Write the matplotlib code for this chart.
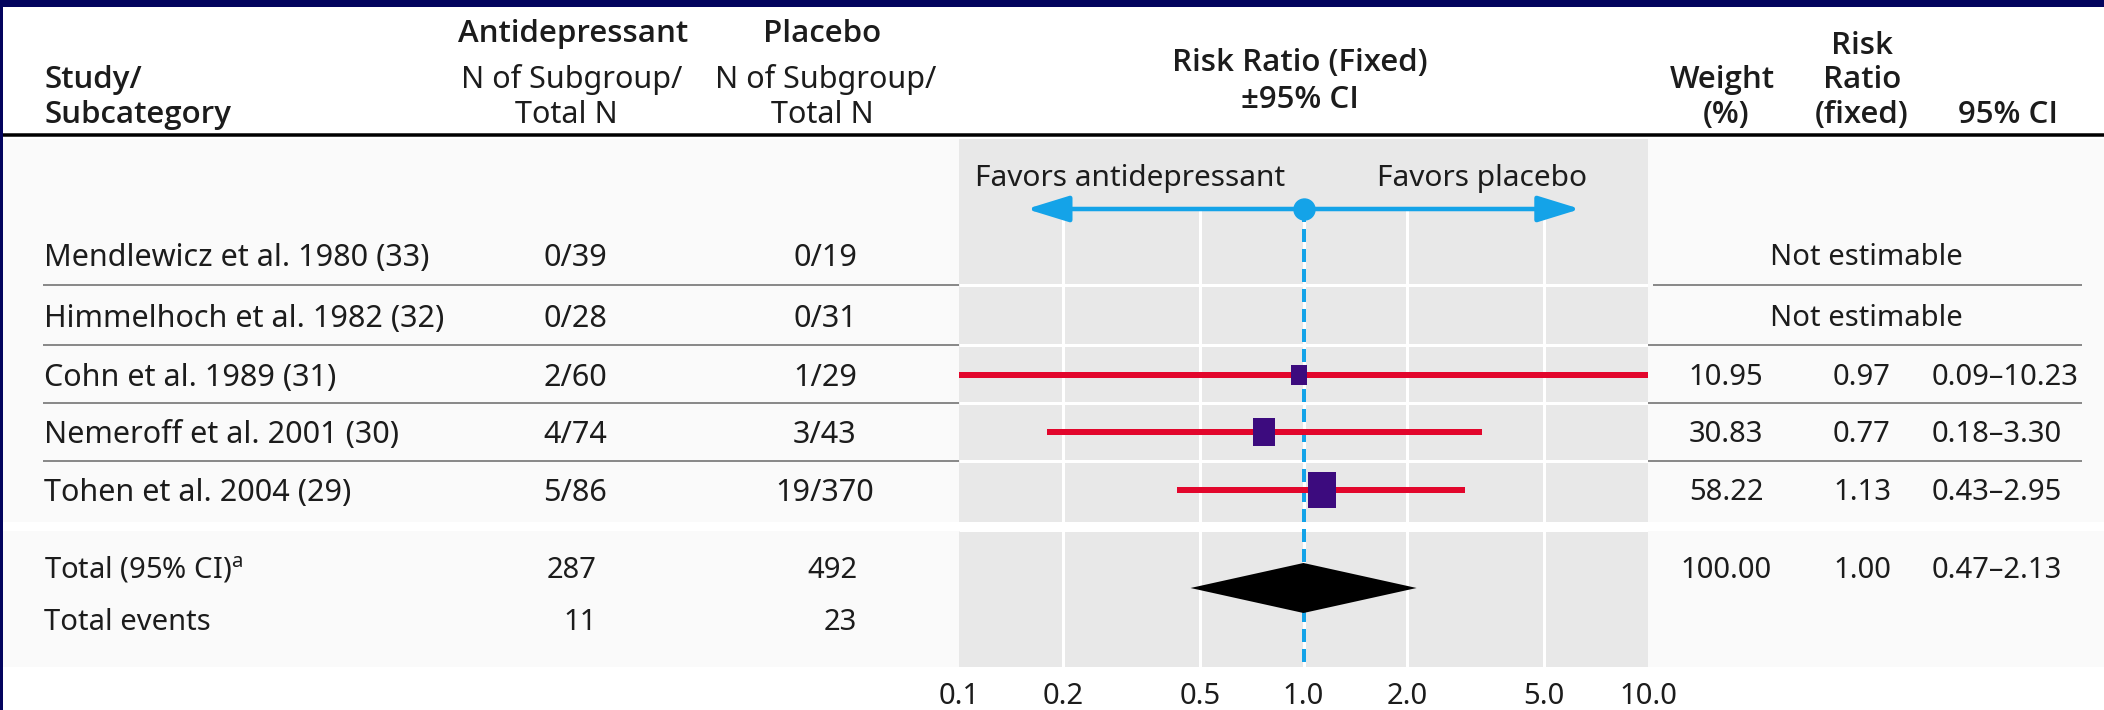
import matplotlib
matplotlib.use("Agg")
import matplotlib.pyplot as plt
from matplotlib.patches import Rectangle, Polygon
from matplotlib.markers import MarkerStyle
import numpy as np

plt.rcParams['font.family'] = ['Noto Sans', 'DejaVu Sans']
plt.rcParams['mathtext.fontset'] = 'custom'
plt.rcParams['mathtext.rm'] = 'Noto Sans'

# data
studies = ['Mendlewicz et al. 1980 (33)', 'Himmelhoch et al. 1982 (32)',
           'Cohn et al. 1989 (31)', 'Nemeroff et al. 2001 (30)', 'Tohen et al. 2004 (29)']
antidep = ['0/39', '0/28', '2/60', '4/74', '5/86']
placebo = ['0/19', '0/31', '1/29', '3/43', '19/370']
weight = [np.nan, np.nan, 10.95, 30.83, 58.22]
rr = [np.nan, np.nan, 0.97, 0.77, 1.13]
ci_lo = [np.nan, np.nan, 0.09, 0.18, 0.43]
ci_hi = [np.nan, np.nan, 10.23, 3.30, 2.95]

total_n = [287, 492]
total_events = [11, 23]
total_weight = 100.00
total_rr = 1.00
total_ci = [0.47, 2.13]

ticks = [0.1, 0.2, 0.5, 1.0, 2.0, 5.0, 10.0]
tick_labels = ['0.1', '0.2', '0.5', '1.0', '2.0', '5.0', '10.0']
arrow_tips = [0.157, 6.36]

W, H = 2104, 710
PX = 0.72  # points per pixel at dpi 100
navy = '#03045e'
blue = '#14a3e8'
red = '#e2062c'
purple = '#3c0b7e'
gray = '#e8e8e8'
light = '#fafafa'
ink = '#1c1c1c'

fig = plt.figure(figsize=(W / 100, H / 100), dpi=100)
fig.patch.set_facecolor('white')
bg = fig.add_axes([0, 0, 1, 1])
bg.set_xlim(0, W)
bg.set_ylim(H, 0)
bg.axis('off')

# panel geometry (pixels)
px0, px1 = 959, 1648
top, gap0, gap1, bottom = 139, 522, 531, 667
row_y = [255, 316, 375, 432, 490]
sep_y = [285, 345, 403, 461]
tot_y = [568, 620]

BODY = 21
HEAD = 22.5
BOLD_FONT = ['Open Sans', 'Lato', 'Liberation Sans']


def txt(x, yc, s, ha='center', size=BODY, weight='normal'):
    # yc = centre of capitals, converted to baseline
    fam = BOLD_FONT if weight != 'normal' else ['Noto Sans', 'DejaVu Sans']
    bg.text(x, yc + 0.357 * size / PX, s, ha=ha, va='baseline', fontsize=size,
            fontweight=weight, family=fam, color=ink)


# backgrounds
for y0, y1 in [(top, gap0), (gap1, bottom)]:
    bg.add_patch(Rectangle((3, y0), px0 - 3, y1 - y0, color=light, lw=0))
    bg.add_patch(Rectangle((px1, y0), W - px1, y1 - y0, color=light, lw=0))
    bg.add_patch(Rectangle((px0, y0), px1 - px0, y1 - y0, color=gray, lw=0))

# navy frame
bg.add_patch(Rectangle((0, 0), W, 7, color=navy, lw=0))
bg.add_patch(Rectangle((0, 0), 3, H, color=navy, lw=0))

# header
bg.plot([3, W], [134.5, 134.5], color='black', lw=3.5 * PX, solid_capstyle='butt')
hb = 'semibold'
h1, h2, h3 = 31, 77, 112
txt(44, h2, 'Study/', ha='left', size=HEAD, weight=hb)
txt(44, h3, 'Subcategory', ha='left', size=HEAD, weight=hb)
txt(573, h1, 'Antidepressant', size=HEAD, weight=hb)
txt(572, h2, 'N of Subgroup/', size=22)
txt(566, h3, 'Total N', size=22)
txt(822, h1, 'Placebo', size=HEAD, weight=hb)
txt(826, h2, 'N of Subgroup/', size=22)
txt(822, h3, 'Total N', size=22)
txt(1300, 60, 'Risk Ratio (Fixed)', size=HEAD, weight=hb)
txt(1300, 97, '±95% CI', size=HEAD, weight=hb)
txt(1722, h2, 'Weight', size=HEAD, weight=hb)
txt(1726, h3, '(%)', size=HEAD, weight=hb)
txt(1862, 43, 'Risk', size=HEAD, weight=hb)
txt(1862, h2, 'Ratio', size=HEAD, weight=hb)
txt(1862, h3, '(fixed)', size=HEAD, weight=hb)
txt(2008, h3, '95% CI', size=HEAD, weight=hb)

# study rows
for i in range(len(studies)):
    y = row_y[i]
    txt(44, y, studies[i], ha='left', size=22)
    txt(575, y, antidep[i], size=22)
    txt(825, y, placebo[i], size=22)
    if np.isnan(rr[i]):
        txt(1866, y, 'Not estimable')
    else:
        txt(1726, y, f'{weight[i]:.2f}')
        txt(1862, y, f'{rr[i]:.2f}')
        txt(1932, y, f'{ci_lo[i]:.2f}–{ci_hi[i]:.2f}', ha='left')

for k, y in enumerate(sep_y):
    bg.plot([43, px0], [y, y], color='#8a8a8a', lw=2 * PX, solid_capstyle='butt')
    bg.plot([1653 if k == 0 else px1, 2082], [y, y], color='#8a8a8a', lw=2 * PX,
            solid_capstyle='butt')

# totals
txt(44, tot_y[0], r'Total (95% CI)$^{\mathrm{a}}$', ha='left')
txt(44, tot_y[1], 'Total events', ha='left')
txt(597, tot_y[0], str(total_n[0]), ha='right')
txt(857, tot_y[0], str(total_n[1]), ha='right')
txt(597, tot_y[1], str(total_events[0]), ha='right')
txt(857, tot_y[1], str(total_events[1]), ha='right')
txt(1726, tot_y[0], f'{total_weight:.2f}')
txt(1862, tot_y[0], f'{total_rr:.2f}')
txt(1932, tot_y[0], f'{total_ci[0]:.2f}–{total_ci[1]:.2f}', ha='left')

# direction labels
txt(1130, 175, 'Favors antidepressant', size=21.5)
txt(1482, 175, 'Favors placebo', size=21.5)

# forest panel
ax = fig.add_axes([px0 / W, 1 - bottom / H, (px1 - px0) / W, (bottom - top) / H])
ax.set_xscale('log')
ax.set_xlim(ticks[0], ticks[-1])
ax.set_ylim(bottom, top)
ax.patch.set_visible(False)
for s in ax.spines.values():
    s.set_visible(False)
ax.set_yticks([])
ax.set_xticks(ticks)
ax.set_xticklabels(tick_labels)
ax.minorticks_off()
ax.tick_params(axis='x', length=0, pad=11, labelsize=21, labelcolor=ink)

arrow_y = 209
ax.vlines(ticks[1:-1], arrow_y, bottom, color='white', lw=3 * PX, zorder=1)
ax.hlines(sep_y, ticks[0], ticks[-1], color='white', lw=3 * PX, zorder=1)
ax.hlines([gap0 + 4.5], ticks[0], ticks[-1], color='white', lw=9 * PX, zorder=1)

# direction arrows
for tip in arrow_tips:
    ax.annotate('', xy=(tip, arrow_y), xytext=(1.0, arrow_y),
                arrowprops=dict(arrowstyle='-|>,head_length=26,head_width=8', mutation_scale=1,
                                lw=4.5 * PX, color=blue, shrinkA=0, shrinkB=0),
                zorder=3)
ax.plot([1.0], [arrow_y], 'o', ms=21 * PX, color=blue, zorder=4)
ax.plot([1.0, 1.0], [arrow_y, bottom], color=blue, lw=4 * PX,
        linestyle=(0, (13 / 4, 7 / 4)), zorder=2)

# study estimates
box = MarkerStyle([(-0.78, -1), (0.78, -1), (0.78, 1), (-0.78, 1)])
for i in range(len(studies)):
    if np.isnan(rr[i]):
        continue
    y = row_y[i]
    ax.plot([ci_lo[i], ci_hi[i]], [y, y], color=red, lw=6 * PX, solid_capstyle='butt', zorder=3)
    h = 7.75 + 3.7 * np.sqrt(weight[i])
    ax.scatter([rr[i]], [y], marker=box, s=(h * PX) ** 2, color=purple, lw=0, zorder=4)

# pooled diamond
dy = 588
ax.add_patch(Polygon([(total_ci[0], dy), (total_rr, dy - 25), (total_ci[1], dy), (total_rr, dy + 25)],
                     closed=True, color='black', lw=0, zorder=4))

fig.savefig('out.png', dpi=100, facecolor='white')
